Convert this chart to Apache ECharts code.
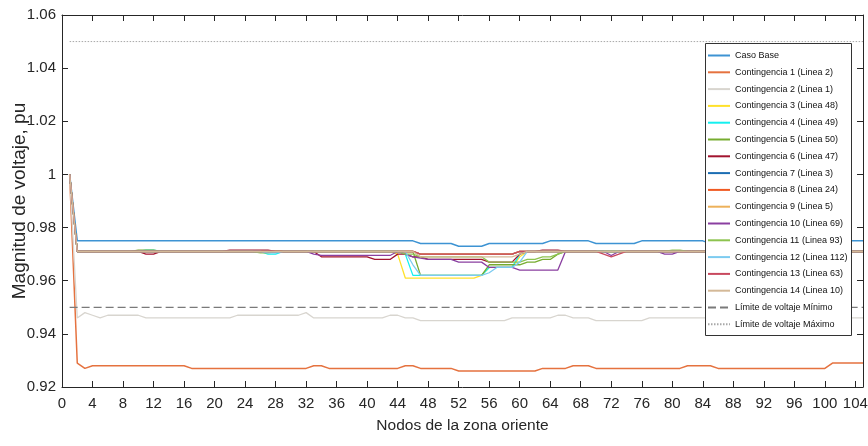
<!DOCTYPE html>
<html>
<head>
<meta charset="utf-8">
<script src="https://cdn.jsdelivr.net/npm/echarts@6/dist/echarts.min.js"></script>
<style>
html,body{margin:0;padding:0;background:#fff;}
#chart{width:868px;height:446px;}
</style>
</head>
<body>
<div id="chart"></div>
<script>
// ---- data ----
const nodes = [
  1,2,3,4,5,6,7,8,9,10,11,12,13,14,15,
  16,17,18,19,20,21,22,23,24,25,26,27,28,29,30,
  31,32,33,34,35,36,37,38,39,40,41,42,43,44,45,
  46,47,48,49,50,51,52,53,54,55,56,57,58,59,60,
  61,62,63,64,65,66,67,68,69,70,71,72,73,74,75,
  76,77,78,79,80,81,82,83,84,85,86,87,88,89,90,
  91,92,93,94,95,96,97,98,99,100,101,102,103,104,105
];
const casoBase = [
  1.000,0.975,0.975,0.975,0.975,0.975,0.975,0.975,0.975,0.975,0.975,0.975,0.975,0.975,0.975,
  0.975,0.975,0.975,0.975,0.975,0.975,0.975,0.975,0.975,0.975,0.975,0.975,0.975,0.975,0.975,
  0.975,0.975,0.975,0.975,0.975,0.975,0.975,0.975,0.975,0.975,0.975,0.975,0.975,0.975,0.975,
  0.975,0.974,0.974,0.974,0.974,0.974,0.973,0.973,0.973,0.973,0.974,0.974,0.974,0.974,0.974,
  0.974,0.974,0.974,0.975,0.975,0.975,0.975,0.975,0.975,0.974,0.974,0.974,0.974,0.974,0.974,
  0.975,0.975,0.975,0.975,0.975,0.975,0.975,0.975,0.975,0.974,0.974,0.974,0.974,0.974,0.974,
  0.974,0.974,0.974,0.974,0.974,0.974,0.974,0.974,0.974,0.974,0.975,0.975,0.975,0.975,0.975
];
const cont1 = [
  1.000,0.929,0.927,0.928,0.928,0.928,0.928,0.928,0.928,0.928,0.928,0.928,0.928,0.928,0.928,
  0.928,0.927,0.927,0.927,0.927,0.927,0.927,0.927,0.927,0.927,0.927,0.927,0.927,0.927,0.927,
  0.927,0.927,0.928,0.928,0.927,0.927,0.927,0.927,0.927,0.927,0.927,0.927,0.927,0.927,0.928,
  0.928,0.927,0.927,0.927,0.927,0.927,0.926,0.926,0.926,0.926,0.926,0.926,0.926,0.926,0.926,
  0.926,0.926,0.927,0.927,0.927,0.927,0.928,0.928,0.928,0.927,0.927,0.927,0.927,0.927,0.927,
  0.927,0.927,0.927,0.927,0.927,0.927,0.928,0.928,0.928,0.928,0.927,0.927,0.927,0.927,0.927,
  0.927,0.927,0.927,0.927,0.927,0.927,0.927,0.927,0.927,0.927,0.929,0.929,0.929,0.929,0.929
];
const cont2 = [
  1.000,0.946,0.948,0.947,0.946,0.947,0.947,0.947,0.947,0.947,0.946,0.946,0.946,0.946,0.946,
  0.946,0.946,0.946,0.946,0.946,0.946,0.946,0.947,0.947,0.947,0.947,0.947,0.947,0.947,0.947,
  0.947,0.948,0.946,0.946,0.946,0.946,0.946,0.946,0.946,0.946,0.946,0.946,0.947,0.947,0.946,
  0.946,0.945,0.945,0.945,0.945,0.945,0.945,0.945,0.945,0.945,0.945,0.945,0.945,0.946,0.946,
  0.946,0.946,0.946,0.946,0.947,0.947,0.946,0.946,0.946,0.945,0.945,0.945,0.945,0.945,0.945,
  0.945,0.946,0.946,0.946,0.946,0.946,0.946,0.946,0.946,0.946,0.946,0.946,0.945,0.945,0.945,
  0.945,0.945,0.945,0.945,0.945,0.945,0.946,0.946,0.946,0.946,0.946,0.946,0.946,0.946,0.946
];
const cont3 = [
  1.000,0.971,0.971,0.971,0.971,0.971,0.971,0.971,0.971,0.971,0.971,0.971,0.971,0.971,0.971,
  0.971,0.971,0.971,0.971,0.971,0.971,0.971,0.971,0.971,0.971,0.971,0.971,0.971,0.971,0.971,
  0.971,0.971,0.971,0.971,0.971,0.971,0.971,0.971,0.971,0.971,0.971,0.971,0.971,0.970,0.961,
  0.961,0.961,0.961,0.961,0.961,0.961,0.961,0.961,0.961,0.962,0.965,0.965,0.965,0.965,0.969,
  0.971,0.971,0.971,0.971,0.971,0.971,0.971,0.971,0.971,0.971,0.971,0.971,0.971,0.971,0.971,
  0.971,0.971,0.971,0.971,0.971,0.971,0.971,0.971,0.971,0.971,0.971,0.971,0.971,0.971,0.971,
  0.971,0.971,0.971,0.971,0.971,0.971,0.971,0.971,0.971,0.971,0.971,0.971,0.971,0.971,0.971
];
const cont4 = [
  1.000,0.971,0.971,0.971,0.971,0.971,0.971,0.971,0.971,0.971,0.9715,0.9715,0.971,0.971,0.971,
  0.971,0.971,0.971,0.971,0.971,0.971,0.971,0.971,0.971,0.971,0.971,0.970,0.970,0.971,0.971,
  0.971,0.971,0.971,0.971,0.971,0.971,0.971,0.971,0.971,0.971,0.971,0.971,0.971,0.971,0.970,
  0.962,0.962,0.962,0.962,0.962,0.962,0.962,0.962,0.962,0.962,0.965,0.965,0.965,0.965,0.970,
  0.971,0.971,0.971,0.971,0.971,0.971,0.971,0.971,0.971,0.971,0.971,0.971,0.971,0.971,0.971,
  0.971,0.971,0.971,0.971,0.971,0.971,0.971,0.971,0.971,0.971,0.971,0.971,0.971,0.971,0.971,
  0.971,0.971,0.971,0.971,0.971,0.971,0.971,0.971,0.971,0.971,0.971,0.971,0.971,0.971,0.971
];
const cont5 = [
  1.000,0.971,0.971,0.971,0.971,0.971,0.971,0.971,0.971,0.9715,0.9715,0.9715,0.971,0.971,0.971,
  0.971,0.971,0.971,0.971,0.971,0.971,0.971,0.971,0.971,0.971,0.971,0.971,0.971,0.971,0.971,
  0.971,0.971,0.971,0.971,0.971,0.971,0.971,0.971,0.971,0.971,0.971,0.971,0.971,0.971,0.971,
  0.971,0.962,0.962,0.962,0.962,0.962,0.962,0.962,0.962,0.962,0.966,0.966,0.966,0.966,0.966,
  0.967,0.967,0.968,0.968,0.970,0.971,0.971,0.971,0.971,0.971,0.971,0.971,0.971,0.971,0.971,
  0.971,0.971,0.971,0.971,0.971,0.971,0.971,0.971,0.971,0.971,0.971,0.971,0.971,0.971,0.971,
  0.971,0.971,0.971,0.971,0.971,0.971,0.971,0.971,0.971,0.971,0.971,0.971,0.971,0.971,0.971
];
const cont6 = [
  1.000,0.971,0.971,0.971,0.971,0.971,0.971,0.971,0.971,0.971,0.970,0.970,0.971,0.971,0.971,
  0.971,0.971,0.971,0.971,0.971,0.971,0.9715,0.9715,0.9715,0.9715,0.9715,0.9715,0.971,0.971,0.971,
  0.971,0.971,0.971,0.969,0.969,0.969,0.969,0.969,0.969,0.969,0.968,0.968,0.968,0.970,0.970,
  0.969,0.969,0.968,0.968,0.968,0.968,0.968,0.968,0.968,0.968,0.967,0.967,0.967,0.967,0.970,
  0.971,0.971,0.9715,0.9715,0.9715,0.971,0.971,0.971,0.971,0.971,0.971,0.971,0.971,0.971,0.971,
  0.971,0.971,0.971,0.971,0.971,0.971,0.971,0.971,0.971,0.971,0.971,0.971,0.971,0.971,0.971,
  0.971,0.971,0.971,0.971,0.971,0.971,0.971,0.971,0.971,0.971,0.971,0.971,0.971,0.971,0.971
];
const cont7 = [
  1.000,0.971,0.971,0.971,0.971,0.971,0.971,0.971,0.971,0.971,0.971,0.971,0.971,0.971,0.971,
  0.971,0.971,0.971,0.971,0.971,0.971,0.971,0.971,0.971,0.971,0.971,0.971,0.971,0.971,0.971,
  0.971,0.971,0.971,0.971,0.971,0.971,0.971,0.971,0.971,0.971,0.971,0.971,0.971,0.971,0.971,
  0.971,0.970,0.970,0.970,0.970,0.970,0.970,0.970,0.970,0.970,0.970,0.970,0.970,0.970,0.971,
  0.971,0.971,0.971,0.971,0.971,0.971,0.971,0.971,0.971,0.971,0.971,0.971,0.971,0.971,0.971,
  0.971,0.971,0.971,0.971,0.971,0.971,0.971,0.971,0.971,0.971,0.971,0.971,0.971,0.971,0.971,
  0.971,0.971,0.971,0.971,0.971,0.971,0.971,0.971,0.971,0.971,0.971,0.971,0.971,0.971,0.971
];
const cont8 = [
  1.000,0.971,0.971,0.971,0.971,0.971,0.971,0.971,0.971,0.971,0.971,0.971,0.971,0.971,0.971,
  0.971,0.971,0.971,0.971,0.971,0.971,0.971,0.971,0.971,0.971,0.971,0.971,0.971,0.971,0.971,
  0.971,0.971,0.971,0.971,0.971,0.971,0.971,0.971,0.971,0.971,0.971,0.971,0.971,0.971,0.971,
  0.971,0.970,0.970,0.970,0.970,0.970,0.970,0.970,0.970,0.970,0.970,0.970,0.970,0.970,0.971,
  0.971,0.971,0.971,0.971,0.971,0.971,0.971,0.971,0.971,0.971,0.971,0.971,0.971,0.971,0.971,
  0.971,0.971,0.971,0.971,0.971,0.971,0.971,0.971,0.971,0.971,0.971,0.971,0.971,0.971,0.971,
  0.971,0.971,0.971,0.971,0.971,0.971,0.971,0.971,0.971,0.971,0.971,0.971,0.971,0.971,0.971
];
const cont9 = [
  1.000,0.971,0.971,0.971,0.971,0.971,0.971,0.971,0.971,0.971,0.971,0.971,0.971,0.971,0.971,
  0.971,0.971,0.971,0.971,0.971,0.971,0.971,0.971,0.971,0.971,0.971,0.971,0.971,0.971,0.971,
  0.971,0.971,0.971,0.971,0.971,0.971,0.971,0.971,0.971,0.971,0.971,0.971,0.971,0.971,0.971,
  0.971,0.970,0.970,0.970,0.970,0.970,0.970,0.970,0.970,0.970,0.970,0.970,0.970,0.970,0.971,
  0.971,0.971,0.971,0.971,0.971,0.971,0.971,0.971,0.971,0.971,0.971,0.971,0.971,0.971,0.971,
  0.971,0.971,0.971,0.971,0.971,0.971,0.971,0.971,0.971,0.971,0.971,0.971,0.971,0.971,0.971,
  0.971,0.971,0.971,0.971,0.971,0.971,0.971,0.971,0.971,0.971,0.971,0.971,0.971,0.971,0.971
];
const cont10 = [
  1.000,0.971,0.971,0.971,0.971,0.971,0.971,0.971,0.971,0.971,0.971,0.971,0.971,0.971,0.971,
  0.971,0.971,0.971,0.971,0.971,0.971,0.971,0.971,0.971,0.971,0.971,0.971,0.971,0.971,0.971,
  0.971,0.971,0.970,0.9695,0.9695,0.9695,0.9695,0.9695,0.9695,0.9695,0.9695,0.9695,0.9695,0.971,0.970,
  0.969,0.9685,0.968,0.968,0.968,0.968,0.967,0.967,0.967,0.967,0.965,0.965,0.965,0.965,0.964,
  0.964,0.964,0.964,0.964,0.964,0.971,0.971,0.971,0.971,0.971,0.971,0.9695,0.971,0.971,0.971,
  0.971,0.971,0.971,0.970,0.970,0.971,0.971,0.971,0.971,0.971,0.971,0.971,0.971,0.971,0.971,
  0.971,0.971,0.971,0.971,0.971,0.971,0.971,0.971,0.971,0.971,0.971,0.971,0.971,0.971,0.971
];
const cont11 = [
  1.000,0.971,0.971,0.971,0.971,0.971,0.971,0.971,0.971,0.971,0.971,0.971,0.971,0.971,0.971,
  0.971,0.971,0.971,0.971,0.971,0.971,0.971,0.971,0.971,0.971,0.9705,0.9705,0.971,0.971,0.971,
  0.971,0.971,0.971,0.971,0.971,0.971,0.971,0.971,0.971,0.971,0.971,0.971,0.971,0.971,0.970,
  0.970,0.969,0.969,0.969,0.969,0.969,0.969,0.969,0.969,0.969,0.967,0.967,0.967,0.967,0.967,
  0.968,0.968,0.969,0.969,0.970,0.971,0.971,0.971,0.971,0.971,0.971,0.971,0.971,0.971,0.971,
  0.971,0.971,0.971,0.971,0.9715,0.9715,0.971,0.971,0.971,0.971,0.971,0.971,0.971,0.971,0.971,
  0.971,0.971,0.971,0.971,0.971,0.971,0.971,0.971,0.971,0.971,0.971,0.971,0.971,0.971,0.971
];
const cont12 = [
  1.000,0.971,0.971,0.971,0.971,0.971,0.971,0.971,0.971,0.971,0.971,0.971,0.971,0.971,0.971,
  0.971,0.971,0.971,0.971,0.971,0.971,0.971,0.971,0.971,0.971,0.971,0.9705,0.9705,0.971,0.971,
  0.971,0.971,0.971,0.971,0.971,0.971,0.971,0.971,0.971,0.971,0.971,0.971,0.971,0.971,0.971,
  0.966,0.962,0.962,0.962,0.962,0.962,0.962,0.962,0.962,0.962,0.963,0.965,0.965,0.965,0.967,
  0.971,0.971,0.971,0.971,0.971,0.971,0.971,0.971,0.971,0.971,0.971,0.971,0.971,0.971,0.971,
  0.971,0.971,0.971,0.971,0.971,0.971,0.971,0.971,0.971,0.971,0.971,0.971,0.971,0.971,0.971,
  0.971,0.971,0.971,0.971,0.971,0.971,0.971,0.971,0.971,0.971,0.971,0.971,0.971,0.971,0.971
];
const cont13 = [
  1.000,0.971,0.971,0.971,0.971,0.971,0.971,0.971,0.971,0.971,0.971,0.971,0.971,0.971,0.971,
  0.971,0.971,0.971,0.971,0.971,0.971,0.971,0.971,0.971,0.971,0.971,0.971,0.971,0.971,0.971,
  0.971,0.971,0.971,0.971,0.971,0.971,0.971,0.971,0.971,0.971,0.971,0.971,0.971,0.971,0.971,
  0.971,0.970,0.970,0.970,0.970,0.970,0.970,0.970,0.970,0.970,0.970,0.970,0.970,0.970,0.971,
  0.971,0.971,0.971,0.971,0.971,0.971,0.971,0.971,0.971,0.971,0.970,0.969,0.970,0.971,0.971,
  0.971,0.971,0.971,0.971,0.971,0.971,0.971,0.971,0.971,0.971,0.971,0.971,0.971,0.971,0.971,
  0.971,0.971,0.971,0.971,0.971,0.971,0.971,0.971,0.971,0.971,0.971,0.971,0.971,0.971,0.971
];
const cont14 = [
  1.000,0.971,0.971,0.971,0.971,0.971,0.971,0.971,0.971,0.971,0.971,0.971,0.971,0.971,0.971,
  0.971,0.971,0.971,0.971,0.971,0.971,0.971,0.971,0.971,0.971,0.971,0.971,0.971,0.971,0.971,
  0.971,0.971,0.971,0.971,0.971,0.971,0.971,0.971,0.971,0.971,0.971,0.971,0.971,0.971,0.971,
  0.971,0.969,0.969,0.969,0.969,0.969,0.969,0.969,0.969,0.969,0.969,0.969,0.969,0.969,0.970,
  0.971,0.971,0.971,0.971,0.971,0.971,0.971,0.971,0.971,0.971,0.971,0.971,0.971,0.971,0.971,
  0.971,0.971,0.971,0.971,0.971,0.971,0.971,0.971,0.971,0.971,0.971,0.971,0.971,0.971,0.971,
  0.971,0.971,0.971,0.971,0.971,0.971,0.971,0.971,0.971,0.971,0.971,0.971,0.971,0.971,0.971
];
const limitNodes = [1, 105];
const limiteMin = [0.95, 0.95];
const limiteMax = [1.05, 1.05];

const seriesNames = [
  'Caso Base','Contingencia 1 (Linea 2)','Contingencia 2 (Linea 1)','Contingencia 3 (Linea 48)',
  'Contingencia 4 (Linea 49)','Contingencia 5 (Linea 50)','Contingencia 6 (Linea 47)','Contingencia 7 (Linea 3)',
  'Contingencia 8 (Linea 24)','Contingencia 9 (Linea 5)','Contingencia 10 (Linea 69)','Contingencia 11 (Linea 93)',
  'Contingencia 12 (Linea 112)','Contingencia 13 (Linea 63)','Contingencia 14 (Linea 10)'
];
const seriesValues = [casoBase,cont1,cont2,cont3,cont4,cont5,cont6,cont7,cont8,cont9,cont10,cont11,cont12,cont13,cont14];
const colors = ['#3D93D3','#E5723F','#D8D5CF','#FFE12B','#14F0F0','#77AC30','#A2142F','#1B6DB3',
                '#F05A22','#EDB15A','#8A3FA0','#8DC34F','#7CCBF0','#C8485E','#D4B998'];

const FONT = "'Liberation Sans',Arial,Helvetica,sans-serif";
const AX = '#262626';

const series = seriesNames.map((name, i) => ({
  name, type: 'line', symbol: 'none', showSymbol: false,
  data: nodes.map((n, k) => [n, seriesValues[i][k]]),
  lineStyle: { width: i <= 1 ? 1.5 : 1.3, color: colors[i] },
  itemStyle: { color: colors[i] },
  emphasis: { disabled: true }, silent: true
}));
series.push({
  name: 'Límite de voltaje Mínimo', type: 'line', symbol: 'none', showSymbol: false,
  data: limitNodes.map((n, k) => [n, limiteMin[k]]),
  lineStyle: { width: 1.3, color: '#7a7a7a', type: [8, 4] },
  itemStyle: { color: '#7a7a7a' }, emphasis: { disabled: true }, silent: true
});
series.push({
  name: 'Límite de voltaje Máximo', type: 'line', symbol: 'none', showSymbol: false,
  data: limitNodes.map((n, k) => [n, limiteMax[k]]),
  lineStyle: { width: 1, color: '#a8a8a8', type: [1.5, 1.5] },
  itemStyle: { color: '#a8a8a8' }, emphasis: { disabled: true }, silent: true
});

const chart = echarts.init(document.getElementById('chart'), null, { renderer: 'canvas' });
const tickCommon = { inside: true, length: 6, lineStyle: { color: AX, width: 1 } };
chart.setOption({
  animation: false,
  backgroundColor: '#fff',
  grid: { left: 62, right: 5, top: 15, bottom: 59, containLabel: false, outerBoundsMode: 'none' },
  graphic: {
    elements: [{
      type: 'rect', z: 50, zlevel: 0, silent: true,
      shape: { x: 705.5, y: 43.5, width: 146, height: 292 },
      style: { fill: '#fff', stroke: '#333', lineWidth: 1 }
    }]
  },
  legend: {
    orient: 'vertical', left: 705, top: 43, z: 60,
    padding: [6.5, 6, 5.5, 2],
    itemWidth: 22, itemHeight: 12, itemGap: 4.8,
    itemStyle: { opacity: 0 },
    backgroundColor: 'transparent', borderWidth: 0,
    textStyle: { fontFamily: FONT, fontSize: 9, color: '#111', lineHeight: 12 },
    data: series.map(s => s.name)
  },
  xAxis: [{
    type: 'value', min: 0, max: 105, interval: 4,
    name: 'Nodos de la zona oriente', nameLocation: 'middle', nameGap: 31,
    nameTextStyle: { fontFamily: FONT, fontSize: 15.5, color: AX },
    axisLine: { show: true, onZero: false, lineStyle: { color: AX, width: 1 } },
    axisTick: tickCommon,
    axisLabel: { fontFamily: FONT, fontSize: 15, color: AX, margin: 9 },
    splitLine: { show: false }
  }, {
    type: 'value', min: 0, max: 105, interval: 4, position: 'top',
    axisLine: { show: true, onZero: false, lineStyle: { color: AX, width: 1 } },
    axisTick: tickCommon, axisLabel: { show: false }, splitLine: { show: false }
  }],
  yAxis: [{
    type: 'value', min: 0.92, max: 1.06, interval: 0.02,
    name: 'Magnitud de voltaje, pu', nameLocation: 'middle', nameGap: 33, nameRotate: 90,
    nameMoveOverlap: false,
    nameTextStyle: { fontFamily: FONT, fontSize: 19, color: AX },
    axisLine: { show: true, onZero: false, lineStyle: { color: AX, width: 1 } },
    axisTick: tickCommon,
    axisLabel: { fontFamily: FONT, fontSize: 15, color: AX, margin: 6,
      formatter: v => String(parseFloat(v.toFixed(2))) },
    splitLine: { show: false }
  }, {
    type: 'value', min: 0.92, max: 1.06, interval: 0.02, position: 'right',
    axisLine: { show: true, onZero: false, lineStyle: { color: AX, width: 1 } },
    axisTick: tickCommon, axisLabel: { show: false }, splitLine: { show: false }
  }],
  series
});
</script>
</body>
</html>
